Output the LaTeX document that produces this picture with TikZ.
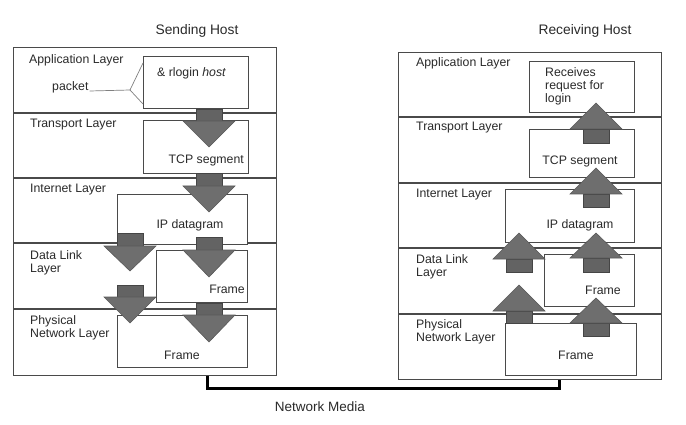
\documentclass[tikz,border=0pt]{standalone}
\usepackage{fontspec}
\setmainfont{Liberation Sans}
\definecolor{txt}{HTML}{2A2A2A}
\definecolor{boxline}{HTML}{4A4A4A}
\definecolor{arrfill}{HTML}{6E6E6E}
\definecolor{arrline}{HTML}{454545}
\newcommand\dnarrow[4]{%
  \draw[arrstem] ({#1-13},{#2}) rectangle ({#1+13},{#3});
  \draw[arrhead] ({#1-26},{#3}) -- ({#1+26},{#3}) -- ({#1},{#4}) -- cycle;}
\newcommand\uparr[4]{%
  \draw[arrstem] ({#1-13},{#2}) rectangle ({#1+13},{#3});
  \draw[arrhead] ({#1-26},{#3}) -- ({#1+26},{#3}) -- ({#1},{#4}) -- cycle;}
\begin{document}
\begin{tikzpicture}[x=1pt,y=-1pt,
  host/.style={draw=boxline, line width=1.3pt, anchor=north west, inner sep=0pt},
  pbox/.style={draw=boxline, line width=1.1pt, anchor=north west, inner sep=0pt, fill=white},
  divider/.style={draw=boxline, line width=1.1pt},
  lbl/.style={text=txt, inner sep=0pt, font=\fontsize{12.3}{13}\selectfont, align=left},
  ttl/.style={text=txt, inner sep=0pt, font=\fontsize{13.8}{15}\selectfont},
  arrstem/.style={fill=arrfill!90!black, draw=arrline, line width=0.8pt},
  arrhead/.style={fill=arrfill, draw=arrfill!80!black, line width=0.6pt},
  media/.style={draw=black, line width=3pt}]
\useasboundingbox[fill=white] (0,0) rectangle (686,425);

% ---------------- Sending host ----------------
\node[host, minimum width=263pt, minimum height=328pt] (send) at (13,47) {};
\foreach \yy in {113,178,243,309} \draw[divider] (13,\yy) -- (276,\yy);
\node[pbox, minimum width=105pt, minimum height=52pt] (lapp) at (143,56) {};
\node[pbox, minimum width=105pt, minimum height=53pt] (ltcp) at (143,120) {};
\node[pbox, minimum width=130pt, minimum height=50pt] (lip) at (117,194) {};
\node[pbox, minimum width=91pt, minimum height=52pt] (ldl) at (156,250) {};
\node[pbox, minimum width=130pt, minimum height=52pt] (lph) at (117,315) {};

\dnarrow{209}{109}{121}{147}
\dnarrow{209}{173}{186}{212}
\dnarrow{130}{233}{246}{271}
\dnarrow{209}{237}{250}{277}
\dnarrow{130}{285}{297}{323}
\dnarrow{209}{303}{315}{342}

\node[ttl] (sendttl) at (197,31) {Sending Host};
\node[lbl, anchor=west] (lappl) at (29,60) {Application Layer};
\node[lbl, anchor=base west] (pkt) at (52,91) {packet};
\node[lbl, anchor=west] (lapptx) at (157,73) {\& rlogin \textit{host}};
\node[lbl, anchor=west] (ltrl) at (30,125) {Transport Layer};
\node[lbl, anchor=east] (ltcptx) at (244,160) {TCP segment};
\node[lbl, anchor=west] (linl) at (30,190) {Internet Layer};
\node[lbl] (liptx) at (190,225) {IP datagram};
\node[lbl, anchor=west] (ldll) at (30,262.5) {Data Link\\Layer};
\node[lbl, anchor=east] (ldltx) at (245,289) {Frame};
\node[lbl, anchor=west] (lphl) at (30,328) {Physical\\Network Layer};
\node[lbl] (lphtx) at (182,355) {Frame};

\coordinate (pk1) at (130,90);
\coordinate (pkt2) at (143,63);
\coordinate (pkt3) at (143,104);
\draw[gray, line width=0.7pt] ([xshift=1pt]pkt.base east) -- (pk1) -- (pkt2);
\draw[gray, line width=0.7pt] (pk1) -- (pkt3);

% ---------------- Receiving host ----------------
\node[host, minimum width=263pt, minimum height=327pt] (recv) at (398,52) {};
\foreach \yy in {117,183,248,314} \draw[divider] (398,\yy) -- (661,\yy);
\node[pbox, minimum width=105pt, minimum height=51pt] (rapp) at (529,61) {};
\node[pbox, minimum width=105pt, minimum height=48pt] (rtcp) at (529,129) {};
\node[pbox, minimum width=129pt, minimum height=53pt] (rip) at (505,189) {};
\node[pbox, minimum width=90pt, minimum height=52pt] (rdl) at (544,254) {};
\node[pbox, minimum width=131pt, minimum height=52pt] (rph) at (505,323) {};

\uparr{596}{143}{129}{103}
\uparr{596}{207}{194}{168}
\uparr{519}{272}{259}{233}
\uparr{596}{272}{258}{233}
\uparr{519}{323}{311}{285}
\uparr{596}{336}{323}{298}

\node[ttl] (recvttl) at (585,31) {Receiving Host};
\node[lbl, anchor=west] (rappl) at (416,63) {Application Layer};
\node[lbl, anchor=west] (rapptx) at (545,86) {Receives\\request for\\login};
\node[lbl, anchor=west] (rtrl) at (416,128) {Transport Layer};
\node[lbl] (rtcptx) at (580,161) {TCP segment};
\node[lbl, anchor=west] (rinl) at (416,195) {Internet Layer};
\node[lbl] (riptx) at (580,225) {IP datagram};
\node[lbl, anchor=west] (rdll) at (416,266.5) {Data Link\\Layer};
\node[lbl] (rdltx) at (603,290) {Frame};
\node[lbl, anchor=west] (rphl) at (416,331.5) {Physical\\Network Layer};
\node[lbl] (rphtx) at (576,355) {Frame};

% ---------------- Network media ----------------
\coordinate (m1) at (207,388);
\coordinate (m2) at (559,388);
\draw[media] (send.south -| m1) -- (m1) -- (m2) -- (recv.south -| m2);
\node[ttl, font=\fontsize{13.5}{15}\selectfont] (medialbl) at (320,407) {Network Media};
\end{tikzpicture}
\end{document}
